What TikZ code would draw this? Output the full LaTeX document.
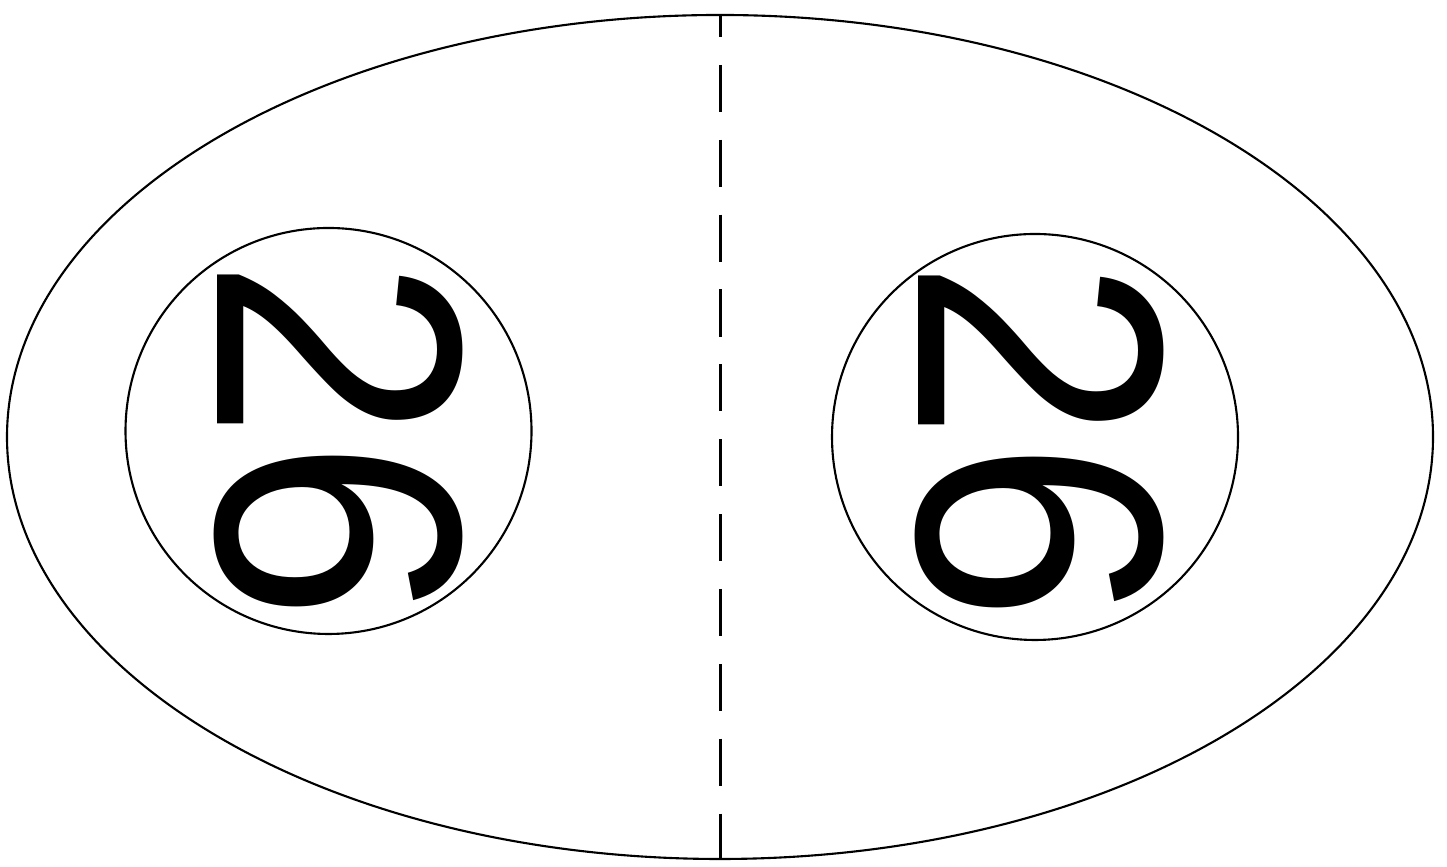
\documentclass[tikz,border=0pt]{standalone}
\usepackage{fontspec}
\setmainfont{Liberation Sans}
\usepackage{tikz}
\usetikzlibrary{shapes,positioning,calc}

\begin{document}
\begin{tikzpicture}[
    disc/.style={circle, draw, line width=0.6pt, minimum size=4.06cm, inner sep=0pt},
    oval/.style={ellipse, draw, line width=0.6pt, minimum width=14.26cm, minimum height=8.44cm, inner sep=0pt},
    numtext/.style={rotate=-90, xscale=0.93, inner sep=0pt, font=\fontsize{100}{100}\selectfont},
    divider/.style={line width=0.85pt, dash pattern=on 13.4pt off 7.9pt, dash phase=6.8pt}
]
    \useasboundingbox (0,0) rectangle (14.47,8.67);
    % Outer ellipse
    \node[oval] (body) at (7.20,4.30) {};
    % Left and right discs
    \node[disc] (left) at (3.285,4.36) {};
    \node[disc] (right) at (10.35,4.30) {};
    \node[numtext] (lnum) at (3.38,4.27) {26};
    \node[numtext] (rnum) at (10.39,4.26) {26};
    % Middle line
    \draw[divider] (body.north) -- (body.south);
\end{tikzpicture}
\end{document}
